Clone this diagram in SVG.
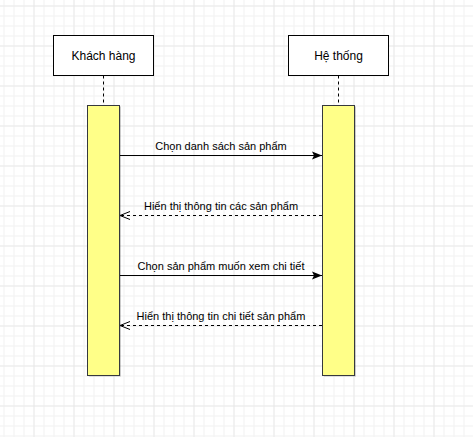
<svg xmlns="http://www.w3.org/2000/svg" width="473" height="437" viewBox="0 0 473 437">
  <defs>
    <pattern id="minor" x="3.5" y="5.5" width="10" height="10" patternUnits="userSpaceOnUse">
      <path d="M0 0.5 H10 M0.5 0 V10" stroke="#f1f1f1" stroke-width="1" fill="none"/>
    </pattern>
    <pattern id="major" x="33.5" y="5.5" width="40" height="40" patternUnits="userSpaceOnUse">
      <path d="M0 0 H40 M0 0 V40" stroke="#e0e0e0" stroke-width="1" fill="none"/>
    </pattern>
    <marker id="block" viewBox="0 0 10 10" refX="10" refY="5" markerWidth="10" markerHeight="10" markerUnits="userSpaceOnUse" orient="auto">
      <path d="M0 1 L10 5 L0 9 L2 5 Z" fill="#000"/>
    </marker>
    <marker id="open" viewBox="0 0 10 10" refX="10" refY="5" markerWidth="10" markerHeight="10" markerUnits="userSpaceOnUse" orient="auto">
      <path d="M0 1 L10 5 L0 9" fill="none" stroke="#000" stroke-width="1"/>
    </marker>
  </defs>
  <style>
    .lbl { font-family: "Liberation Sans", Arial, sans-serif; font-size: 12px; fill: #000; text-anchor: middle; }
    .msg { font-family: "Liberation Sans", Arial, sans-serif; font-size: 11px; fill: #000; text-anchor: middle; }
    .box { fill: #fff; stroke: #000; stroke-width: 1; }
    .act { fill: #ffff88; stroke: #36393d; stroke-width: 1; }
    .shadow { fill: #000; opacity: 0.2; }
    .life { stroke: #000; stroke-width: 1; stroke-dasharray: 3 3; }
    .call { stroke: #000; stroke-width: 1; fill: none; marker-end: url(#block); }
    .ret { stroke: #000; stroke-width: 1; fill: none; stroke-dasharray: 3 3; marker-end: url(#open); }
  </style>
  <rect width="473" height="437" fill="#fff"/>
  <rect width="473" height="437" fill="url(#minor)"/>
  <rect width="473" height="437" fill="url(#major)"/>

  <g id="khach-hang">
    <rect class="box" x="53.5" y="35.5" width="100" height="40"/>
    <text class="lbl" x="103.5" y="59.5">Khách hàng</text>
    <line class="life" x1="103.5" y1="75.5" x2="103.5" y2="105.5"/>
    <rect class="shadow" x="89" y="106.5" width="32" height="270"/>
    <rect class="act" x="87.5" y="105.5" width="32" height="270"/>
  </g>

  <g id="he-thong">
    <rect class="box" x="288.5" y="35.5" width="100" height="40"/>
    <text class="lbl" x="338.5" y="59.5">Hệ thống</text>
    <line class="life" x1="338.5" y1="75.5" x2="338.5" y2="105.5"/>
    <rect class="shadow" x="324" y="106.5" width="32" height="270"/>
    <rect class="act" x="322.5" y="105.5" width="32" height="270"/>
  </g>

  <g id="connectors">
    <line class="call" x1="120" y1="155.5" x2="322" y2="155.5"/>
    <text class="msg" x="221" y="150">Chọn danh sách sản phẩm</text>
    <line class="ret" x1="322" y1="215.5" x2="120" y2="215.5"/>
    <text class="msg" x="221" y="210">Hiển thị thông tin các sản phẩm</text>
    <line class="call" x1="120" y1="275.5" x2="322" y2="275.5"/>
    <text class="msg" x="221" y="270">Chọn sản phẩm muốn xem chi tiết</text>
    <line class="ret" x1="322" y1="325.5" x2="120" y2="325.5"/>
    <text class="msg" x="221" y="320">Hiển thị thông tin chi tiết sản phẩm</text>
  </g>
</svg>
